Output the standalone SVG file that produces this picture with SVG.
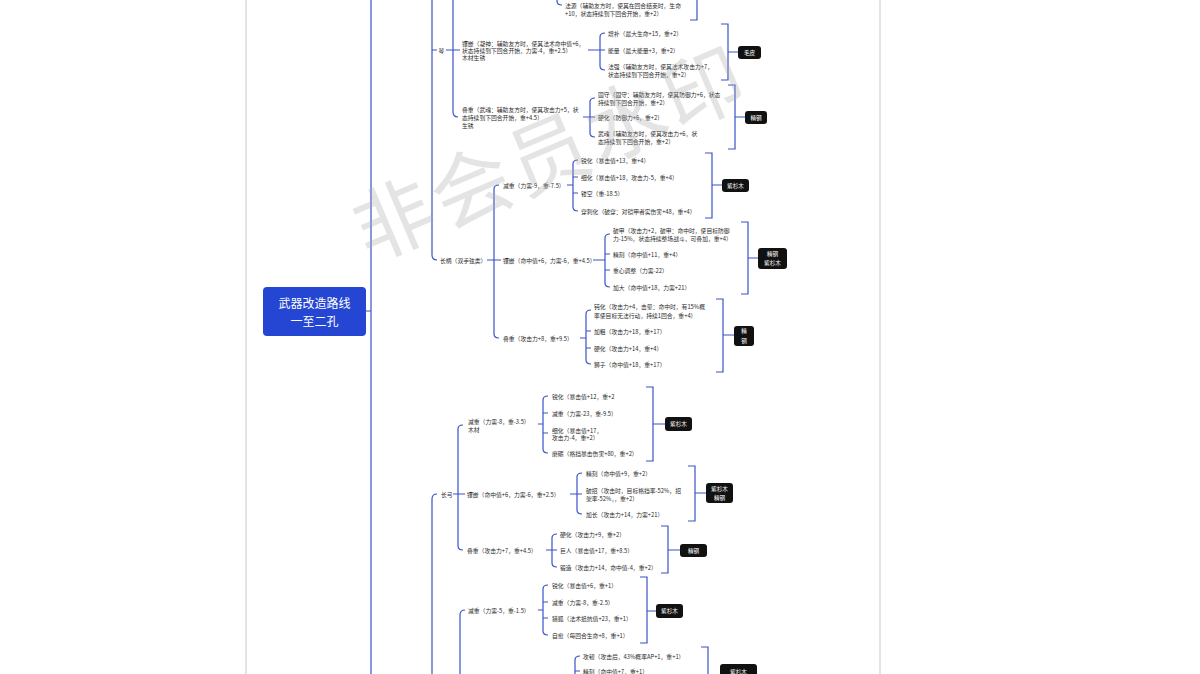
<svg xmlns="http://www.w3.org/2000/svg" width="1200" height="674" viewBox="0 0 1200 674">
<style>
.t{font-family:"Noto Sans CJK SC","Liberation Sans",sans-serif;font-size:5.8px;fill:#2a2a2a;dominant-baseline:central}
.c{fill:none;stroke:#3b52c8;stroke-width:1.2}
.box{fill:#111}
.bt{font-family:"Noto Sans CJK SC","Liberation Sans",sans-serif;font-size:5.6px;fill:#fff;text-anchor:middle;dominant-baseline:central}
.wm{font-family:"Noto Sans CJK SC",sans-serif;font-size:80px;fill:#a8a8a8;opacity:0.3;text-anchor:middle;dominant-baseline:central}
.rt{font-family:"Noto Sans CJK SC",sans-serif;font-size:12px;fill:#fff;text-anchor:middle;dominant-baseline:central}
</style>
<rect width="1200" height="674" fill="#fff"/>
<line x1="246" y1="0" x2="246" y2="674" stroke="#e4e4e4" stroke-width="2"/>
<line x1="880" y1="0" x2="880" y2="674" stroke="#e4e4e4" stroke-width="2"/>

<g id="connectors">
<path class="c" d="M366 311H371M371 -5V680"/>
<path class="c" d="M432 -5V255Q432 260 437 260M432 50H437"/>
<path class="c" d="M437 494Q432 494 432 499V680"/>
<path class="c" d="M557 -5V1Q557 5 562 5M690 20H697V-5"/>
<path class="c" d="M453 -5V112Q453 117 458 117M446 50H460"/>
<path class="c" d="M588 50H600M605 33Q600 33 600 37V66Q600 70 605 70M600 50H605M721 24H728V80H721M728 52H738"/>
<path class="c" d="M583 117H590M595 98Q590 98 590 102V133Q590 137 595 137M590 117H595M728 85H735V149H728M735 117H745"/>
<path class="c" d="M487 260H501M499 185Q494 185 494 189V334Q494 338 499 338"/>
<path class="c" d="M567 185H573M578 160Q573 160 573 164V207Q573 211 578 211M573 177H578M573 193H578M705 153H712V218H705M712 185H722"/>
<path class="c" d="M593 260H605M610 234Q605 234 605 238V283Q605 287 610 287M605 254H610M605 270H610M741 222H748V294H741M748 258H758"/>
<path class="c" d="M580 338H586M591 310Q586 310 586 314V360Q586 364 591 364M586 331H591M586 348H591M716 299H723V372H716M723 335H734"/>
<path class="c" d="M453 494H465M463 425Q458 425 458 429V546Q458 550 463 550"/>
<path class="c" d="M538 424H543M548 396Q543 396 543 400V449Q543 453 548 453M543 413H548M543 433H548M646 387H653V461H646M653 424H665"/>
<path class="c" d="M570 494H577M582 473Q577 473 577 477V510Q577 514 582 514M577 494H582M688 466H695V521H688M695 493H706"/>
<path class="c" d="M546 550H552M557 534Q552 534 552 538V563Q552 567 557 567M552 550H557M661 526H668V573H661M668 550H680"/>
<path class="c" d="M465 610Q460 610 460 615V680"/>
<path class="c" d="M538 610H543M548 585Q543 585 543 589V631Q543 635 548 635M543 602H548M543 618H548M640 577H647V643H640M647 611H656"/>
<path class="c" d="M580 656Q575 656 575 660V680M575 671H580M701 647H708V680M708 677H720"/>
</g>

<g id="root"><rect x="263" y="287" width="103" height="49" rx="4" fill="#2446d2"/>
<text class="rt" x="314.5" y="302">武器改造路线</text>
<text class="rt" x="314.5" y="320">一至二孔</text></g>

<g id="n-fayuan"><text class="t" x="565" y="5">法源（辅助友方时，使其在回合结束时，生命</text><text class="t" x="565" y="13">+10，状态持续到下回合开始，重+2）</text></g>
<g id="n-qin"><text class="t" x="438.5" y="50">琴</text></g>
<g id="n-qin-xq"><text class="t" x="462" y="43">镶嵌（凝神：辅助友方时，使其法术命中值+6，</text><text class="t" x="462" y="50">状态持续到下回合开始，力需-4，重+2.5）</text><text class="t" x="462" y="57">木材生锈</text></g>
<g id="n-zengbu"><text class="t" x="608" y="33">增补（最大生命+15，重+2）</text></g>
<g id="n-nengliang"><text class="t" x="608" y="50">能量（最大能量+3，重+2）</text></g>
<g id="n-faqiang"><text class="t" x="608" y="66">法强（辅助友方时，使其法术攻击力+7，</text><text class="t" x="608" y="74">状态持续到下回合开始，重+2）</text></g>
<g id="m-maopi"><rect class="box" x="738" y="46" width="23" height="13" rx="3"/><text class="bt" x="749.5" y="52.5">毛皮</text></g>
<g id="n-qin-dz"><text class="t" x="462" y="109">叠重（武魂：辅助友方时，使其攻击力+5，状</text><text class="t" x="462" y="117">态持续到下回合开始，重+4.5）</text><text class="t" x="462" y="125">生锈</text></g>
<g id="n-gushou"><text class="t" x="598" y="94">固守（固守：辅助友方时，使其防御力+6，状态</text><text class="t" x="598" y="102">持续到下回合开始，重+2）</text></g>
<g id="n-yinghua1"><text class="t" x="598" y="117">硬化（防御力+6，重+2）</text></g>
<g id="n-wuhun"><text class="t" x="598" y="133">武魂（辅助友方时，使其攻击力+6，状</text><text class="t" x="598" y="141">态持续到下回合开始，重+2）</text></g>
<g id="m-jinggang1"><rect class="box" x="745" y="111" width="22" height="13" rx="3"/><text class="bt" x="756" y="117.5">精钢</text></g>

<g id="n-changbing"><text class="t" x="440" y="260">长柄（双手弦类）</text></g>
<g id="n-cb-jz"><text class="t" x="503" y="185">减重（力需-9，重-7.5）</text></g>
<g id="n-ruihua1"><text class="t" x="581" y="160">锐化（暴击值+13，重+4）</text></g>
<g id="n-xihua1"><text class="t" x="581" y="177">细化（暴击值+18，攻击力-5，重+4）</text></g>
<g id="n-loukong"><text class="t" x="581" y="193">镂空（重-18.5）</text></g>
<g id="n-chuanci"><text class="t" x="581" y="211">穿刺化（破穿：对铠甲者实伤害+48，重+4）</text></g>
<g id="m-zishan1"><rect class="box" x="722" y="179" width="27" height="13" rx="3"/><text class="bt" x="735.5" y="185.5">紫杉木</text></g>
<g id="n-cb-xq"><text class="t" x="503" y="260">镶嵌（命中值+6，力需-6，重+4.5）</text></g>
<g id="n-pojia"><text class="t" x="613" y="230">破甲（攻击力+2，破甲：命中时，使目标防御</text><text class="t" x="613" y="238">力-15%，状态持续整场战斗，可叠加，重+4）</text></g>
<g id="n-jingke1"><text class="t" x="613" y="254">精刻（命中值+11，重+4）</text></g>
<g id="n-zhongxin"><text class="t" x="613" y="270">重心调整（力需-22）</text></g>
<g id="n-jiada"><text class="t" x="613" y="287">加大（命中值+18，力需+21）</text></g>
<g id="m-jgzs1"><rect class="box" x="758" y="248" width="29" height="21" rx="3"/><text class="bt" x="772.5" y="254">精钢</text><text class="bt" x="772.5" y="263">紫杉木</text></g>
<g id="n-cb-dz"><text class="t" x="503" y="338">叠重（攻击力+8，重+9.5）</text></g>
<g id="n-dunhua"><text class="t" x="594" y="306">钝化（攻击力+4，击晕：命中时，有15%概</text><text class="t" x="594" y="315">率使目标无法行动，持续1回合，重+4）</text></g>
<g id="n-jiacu"><text class="t" x="594" y="331">加粗（攻击力+18，重+17）</text></g>
<g id="n-yinghua2"><text class="t" x="594" y="348">硬化（攻击力+14，重+4）</text></g>
<g id="n-shizi"><text class="t" x="594" y="364">狮子（命中值+18，重+17）</text></g>
<g id="m-jinggang2"><rect class="box" x="734" y="326" width="20" height="20" rx="3"/><text class="bt" x="744" y="331">精</text><text class="bt" x="744" y="341">钢</text></g>

<g id="n-changgong"><text class="t" x="441" y="494">长弓</text></g>
<g id="n-cg-jz"><text class="t" x="468" y="421">减重（力需-8，重-3.5）</text><text class="t" x="468" y="429">木材</text></g>
<g id="n-ruihua2"><text class="t" x="552" y="396">锐化（暴击值+12，重+2</text></g>
<g id="n-jianzhong2"><text class="t" x="552" y="413">减重（力需-23，重-9.5）</text></g>
<g id="n-xihua2"><text class="t" x="552" y="430">细化（暴击值+17，</text><text class="t" x="552" y="437">攻击力-4，重+2）</text></g>
<g id="n-moli"><text class="t" x="552" y="453">磨砺（格挡暴击伤害+80，重+2）</text></g>
<g id="m-zishan2"><rect class="box" x="665" y="417" width="27" height="14" rx="3"/><text class="bt" x="678.5" y="424">紫杉木</text></g>
<g id="n-cg-xq"><text class="t" x="467" y="494">镶嵌（命中值+6，力需-6，重+2.5）</text></g>
<g id="n-jingke2"><text class="t" x="586" y="473">精刻（命中值+9，重+2）</text></g>
<g id="n-pozhao"><text class="t" x="586" y="490">破招（攻击时，目标格挡率-52%，招</text><text class="t" x="586" y="498">架率-52%，，重+2）</text></g>
<g id="n-jiachang"><text class="t" x="586" y="514">加长（攻击力+14，力需+21）</text></g>
<g id="m-zsjg"><rect class="box" x="706" y="483" width="27" height="20" rx="3"/><text class="bt" x="719.5" y="488.5">紫杉木</text><text class="bt" x="719.5" y="497.5">精钢</text></g>
<g id="n-cg-dz"><text class="t" x="467" y="550">叠重（攻击力+7，重+4.5）</text></g>
<g id="n-yinghua3"><text class="t" x="560" y="534">硬化（攻击力+9，重+2）</text></g>
<g id="n-juren"><text class="t" x="560" y="550">巨人（暴击值+17，重+8.5）</text></g>
<g id="n-duanzao"><text class="t" x="560" y="567">锻造（攻击力+14，命中值-4，重+2）</text></g>
<g id="m-jinggang3"><rect class="box" x="680" y="544" width="27" height="13" rx="3"/><text class="bt" x="693.5" y="550.5">精钢</text></g>

<g id="n-x-jz"><text class="t" x="468" y="610">减重（力需-5，重-1.5）</text></g>
<g id="n-ruihua3"><text class="t" x="552" y="585">锐化（暴击值+6，重+1）</text></g>
<g id="n-jianzhong3"><text class="t" x="552" y="602">减重（力需-8，重-2.5）</text></g>
<g id="n-liehu"><text class="t" x="552" y="618">猎狐（法术抵抗值+23，重+1）</text></g>
<g id="n-ziyu"><text class="t" x="552" y="635">自愈（每回合生命+8，重+1）</text></g>
<g id="m-zishan3"><rect class="box" x="656" y="604" width="27" height="14" rx="3"/><text class="bt" x="669.5" y="611">紫杉木</text></g>
<g id="n-gongren"><text class="t" x="583" y="656">攻韧（攻击后，43%概率AP+1，重+1）</text></g>
<g id="n-jingke3"><text class="t" x="583" y="671">精刻（命中值+7，重+1）</text></g>
<g id="m-zishan4"><rect class="box" x="720" y="664" width="37" height="26" rx="3"/><text class="bt" x="738.5" y="672">紫杉木</text></g>

<text class="wm" x="548" y="148" letter-spacing="4" transform="rotate(-23 548 148)">非会员水印</text>
</svg>
